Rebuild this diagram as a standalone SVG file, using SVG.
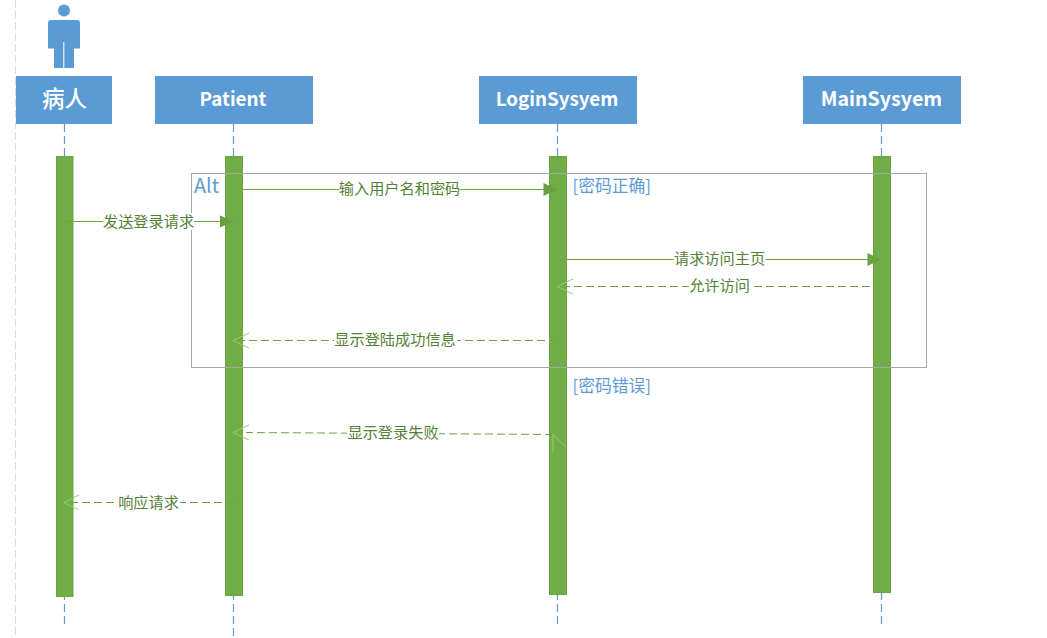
<svg xmlns="http://www.w3.org/2000/svg" width="1047" height="638" viewBox="0 0 1047 638">
<style>
text{font-family:"Noto Sans CJK SC","Noto Sans",sans-serif}
.head{fill:#5b9bd5}
.headt{fill:#fff;font-size:18.800px;font-weight:700;text-anchor:middle}
.life{stroke:#5b9bd5;stroke-width:1.2;stroke-dasharray:8 4;fill:none}
.bar{fill:#70ad47;stroke:#6aa53f;stroke-width:1}
.sol{stroke:#6aa53f;stroke-width:1;fill:none}
.das{stroke:#6aa53f;stroke-width:1;fill:none;stroke-dasharray:8 4}
.op{stroke:#97cb74;stroke-width:1;fill:none}
.tip{fill:#67a23e}
.lab{fill:#548235;font-size:15.200px;text-anchor:middle}
.mask{fill:#fff}
.guard{fill:#5b9bd5;font-size:16.800px}
</style>
<line x1="15.500" y1="0" x2="15.500" y2="638" stroke="#dcdcdc" stroke-width="1" stroke-dasharray="8 3"/>
<g id="actor">
<circle cx="64" cy="10.500" r="6" fill="#5b9bd5"/>
<path d="M51 20H77Q80 20 80 23V48.500H74V68H64.300V42H63.300V68H54V48.500H48V23Q48 20 51 20Z" fill="#5b9bd5"/>
</g>
<g id="node-bingren">
<line class="life" x1="64.500" y1="124" x2="64.500" y2="625"/>
<rect class="head" x="16" y="76" width="96" height="48"/>
<text class="headt" x="64.500" y="106.500" style="font-size:22.500px;font-weight:500">病人</text>
<rect class="bar" x="56.500" y="156.500" width="16.500" height="440"/>
</g>
<g id="node-patient">
<line class="life" x1="233.500" y1="124" x2="233.500" y2="636"/>
<rect class="head" x="155" y="76" width="158" height="48"/>
<text class="headt" x="233" y="106">Patient</text>
<rect class="bar" x="225.500" y="156.500" width="17" height="439"/>
</g>
<g id="node-login">
<line class="life" x1="557.500" y1="124" x2="557.500" y2="625"/>
<rect class="head" x="479" y="76" width="158" height="48"/>
<text class="headt" x="557" y="106">LoginSysyem</text>
<rect class="bar" x="549.500" y="156.500" width="17" height="438"/>
</g>
<g id="node-main">
<line class="life" x1="881.500" y1="124" x2="881.500" y2="625"/>
<rect class="head" x="803" y="76" width="158" height="48"/>
<text class="headt" x="881.500" y="106" style="font-size:19.600px">MainSysyem</text>
<rect class="bar" x="873.500" y="156.500" width="17" height="436"/>
</g>
<g id="frame">
<rect x="191.500" y="173.500" width="735" height="194" fill="none" stroke="#a6a6a6" stroke-width="1"/>
<text x="194" y="192.500" fill="#5b9bd5" font-size="19.800">Alt</text>
<text class="guard" x="572.500" y="191.500">[密码正确]</text>
<text class="guard" x="572.500" y="391.500">[密码错误]</text>
</g>
<g id="connectors">
<line class="sol" x1="64" y1="221.500" x2="221" y2="221.500"/>
<path class="tip" d="M220 215.500L234 221.500L220 227.500Z"/>
<rect class="mask" x="103" y="213" width="91" height="17"/>
<text class="lab" x="148.500" y="226.500">发送登录请求</text>
<line class="sol" x1="243" y1="189.500" x2="545" y2="189.500"/>
<path class="tip" d="M543.500 183L557 189.500L543.500 196Z"/>
<rect class="mask" x="339" y="180" width="121" height="17"/>
<text class="lab" x="399.500" y="194">输入用户名和密码</text>
<line class="sol" x1="567" y1="259.500" x2="869" y2="259.500"/>
<path class="tip" d="M867.500 253L881 259.500L867.500 266Z"/>
<rect class="mask" x="674" y="250" width="92" height="17"/>
<text class="lab" x="719.500" y="264">请求访问主页</text>
<line class="das" x1="870" y1="286.500" x2="566" y2="286.500"/>
<path class="op" d="M573 279L557 286.500L573 294"/>
<rect class="mask" x="689" y="277" width="62" height="17"/>
<text class="lab" x="719.500" y="291">允许访问</text>
<line class="das" x1="557" y1="340.500" x2="243" y2="340.500"/>
<path class="op" d="M249 333L233 340.500L249 348"/>
<rect class="mask" x="334" y="331" width="123" height="17"/>
<text class="lab" x="395" y="344.500">显示登陆成功信息</text>
<path class="das" d="M553 434.500L246 432.500"/>
<path class="op" d="M249 425L233 432.500L249 440"/>
<path class="op" d="M553 434.500L566 447M553 434.500V452"/>
<rect class="mask" x="347" y="424" width="92" height="17"/>
<text class="lab" x="393" y="438">显示登录失败</text>
<line class="das" x1="234" y1="502.500" x2="73" y2="502.500"/>
<path class="op" d="M79 495L64 502.500L79 510"/>
<rect class="mask" x="118" y="494" width="62" height="17"/>
<text class="lab" x="148.500" y="507.500">响应请求</text>
</g>
</svg>
